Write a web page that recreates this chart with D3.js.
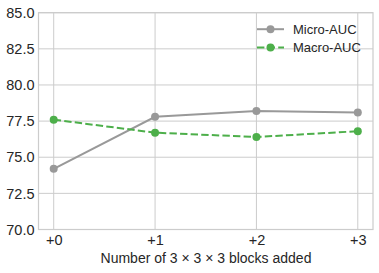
<!doctype html>
<html>
<head>
<script src="https://cdn.jsdelivr.net/npm/d3@7"></script>
<style>
    html, body { margin: 0; padding: 0; background: #fff; }
    #viz { position: absolute; top: 0; left: 0; width: 379px; height: 273px; }
    text { font-family: "Liberation Sans", Arial, sans-serif; fill: #262626; }
</style>
</head>
<body>
<div id="viz"></div>
<script>
var steps = [0, 1, 2, 3];
var stepLabels = ["+0", "+1", "+2", "+3"];
var microAuc = [74.2, 77.8, 78.2, 78.1];
var macroAuc = [77.6, 76.7, 76.4, 76.8];
var yTicks = [70, 72.5, 75, 77.5, 80, 82.5, 85];

var w = 379, h = 273;
var margin = {top: 12.7, right: 6, bottom: 43.5, left: 38.5};

var svg = d3.select("#viz").append("svg")
    .attr("width", w)
    .attr("height", h);

var x = d3.scaleLinear().domain([-0.15, 3.15]).range([margin.left, w - margin.right]);
var y = d3.scaleLinear().domain([70, 85]).range([h - margin.bottom, margin.top]);

// grid
svg.append("g").selectAll("line.gy")
    .data(yTicks).enter().append("line")
    .attr("x1", margin.left).attr("x2", w - margin.right)
    .attr("y1", function (d) { return y(d); })
    .attr("y2", function (d) { return y(d); })
    .attr("stroke", "#cccccc").attr("stroke-width", 1);
svg.append("g").selectAll("line.gx")
    .data(steps).enter().append("line")
    .attr("x1", function (d) { return x(d); })
    .attr("x2", function (d) { return x(d); })
    .attr("y1", margin.top).attr("y2", h - margin.bottom)
    .attr("stroke", "#cccccc").attr("stroke-width", 1);

// frame
svg.append("rect")
    .attr("x", margin.left).attr("y", margin.top)
    .attr("width", w - margin.right - margin.left)
    .attr("height", h - margin.bottom - margin.top)
    .attr("fill", "none").attr("stroke", "#cccccc").attr("stroke-width", 1.2);

// axes (labels only)
var yAxis = svg.append("g")
    .attr("transform", "translate(" + margin.left + ",0)")
    .call(d3.axisLeft(y).tickValues(yTicks).tickFormat(d3.format(".1f")).tickSize(0).tickPadding(4));
yAxis.select(".domain").remove();
yAxis.selectAll("text").style("font-size", "14.5px").style("fill", "#262626");

var xAxis = svg.append("g")
    .attr("transform", "translate(0," + (h - margin.bottom) + ")")
    .call(d3.axisBottom(x).tickValues(steps).tickFormat(function (d, i) { return stepLabels[i]; }).tickSize(0).tickPadding(5));
xAxis.select(".domain").remove();
xAxis.selectAll("text").style("font-size", "14.5px").style("fill", "#262626");

svg.append("text")
    .attr("x", 206).attr("y", 263)
    .attr("text-anchor", "middle")
    .style("font-size", "14px")
    .text("Number of 3 \u00d7 3 \u00d7 3 blocks added");

// series
var series = [
    {name: "Micro-AUC", values: microAuc, color: "#999999", dash: null},
    {name: "Macro-AUC", values: macroAuc, color: "#4daf4a", dash: "7.4,3.2"}
];

var line = d3.line()
    .x(function (d, i) { return x(steps[i]); })
    .y(function (d) { return y(d); });

series.forEach(function (s) {
    svg.append("path")
        .datum(s.values)
        .attr("d", line)
        .attr("fill", "none")
        .attr("stroke", s.color)
        .attr("stroke-width", 2)
        .attr("stroke-dasharray", s.dash);
    svg.append("g").selectAll("circle")
        .data(s.values).enter().append("circle")
        .attr("cx", function (d, i) { return x(steps[i]); })
        .attr("cy", function (d) { return y(d); })
        .attr("r", 4)
        .attr("fill", s.color);
});

// legend
var legend = svg.append("g");
series.forEach(function (s, i) {
    var ly = 29.2 + i * 18.4;
    legend.append("line")
        .attr("x1", 257).attr("x2", 284)
        .attr("y1", ly).attr("y2", ly)
        .attr("stroke", s.color).attr("stroke-width", 2)
        .attr("stroke-dasharray", s.dash);
    legend.append("circle")
        .attr("cx", 270.5).attr("cy", ly).attr("r", 4)
        .attr("fill", s.color);
    legend.append("text")
        .attr("x", 293).attr("y", ly)
        .attr("dy", "0.35em")
        .style("font-size", "13px")
        .text(s.name);
});
</script>
</body>
</html>
